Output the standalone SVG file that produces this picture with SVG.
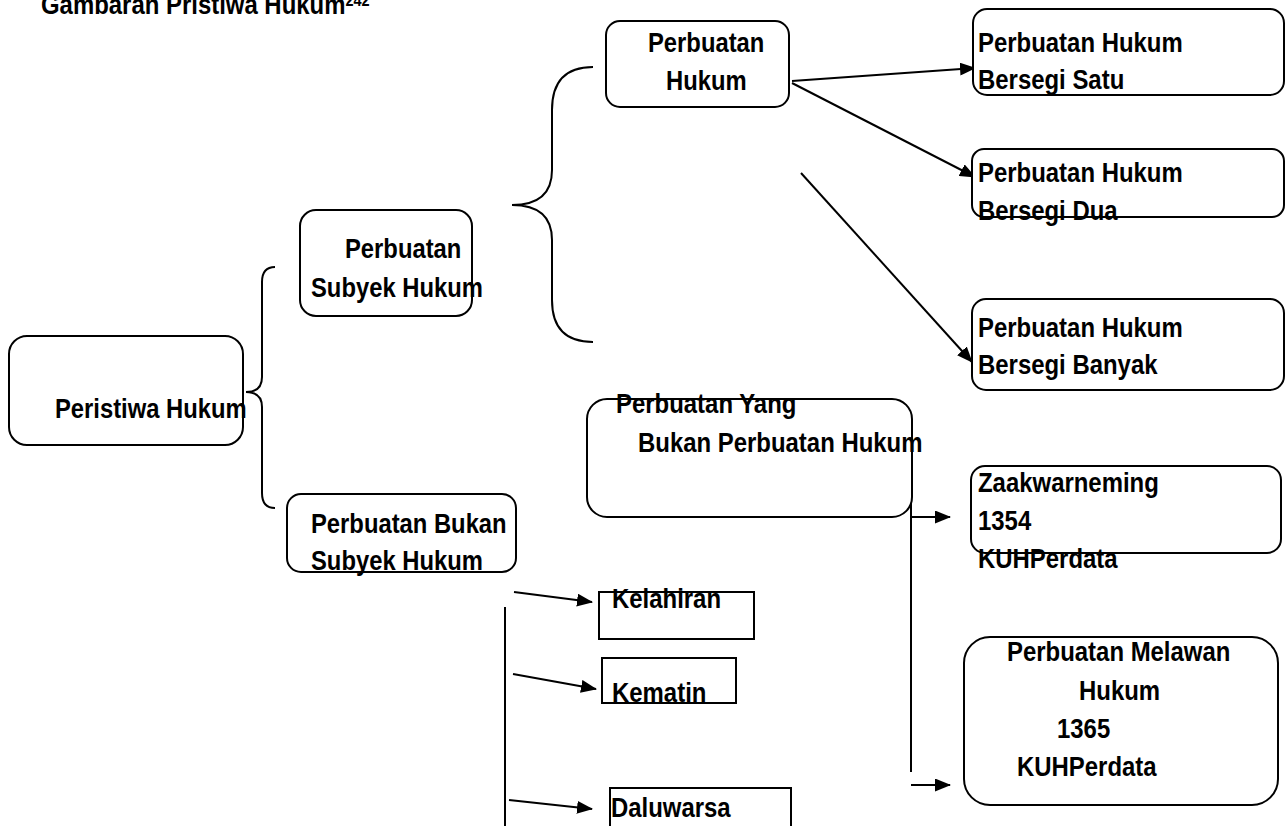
<svg xmlns="http://www.w3.org/2000/svg" width="1285" height="826" viewBox="0 0 1285 826">
<defs>
<style>
.t{font-family:"Liberation Sans","Arial",sans-serif;font-weight:bold;font-size:28px;fill:#000}
.b{fill:#fff;stroke:#000;stroke-width:2}
.l{fill:none;stroke:#000;stroke-width:2}
.a{fill:none;stroke:#000;stroke-width:2;marker-end:url(#ah)}
</style>
<marker id="ah" markerUnits="userSpaceOnUse" markerWidth="16" markerHeight="13" refX="15" refY="6.5" orient="auto">
<path d="M0,0 L16,6.5 L0,13 Z" fill="#000"/>
</marker>
</defs>
<rect width="1285" height="826" fill="#fff"/>
<g id="title">
<text class="t" transform="translate(41,14) scale(.855,1)">Gambaran Pristiwa Hukum<tspan font-size="17" dy="-8">242</tspan></text>
</g>
<g id="connectors">
<path class="l" d="M275,267 Q262,267 262,282 L262,377 Q262,392 246,392 Q262,392 262,407 L262,493 Q262,508 275,508"/>
<path class="l" d="M593,67 Q552,67 552,110 L552,170 Q552,205 512,205 Q552,205 552,240 L552,300 Q552,342 593,342"/>
<line class="a" x1="792" y1="81" x2="975" y2="68"/>
<line class="a" x1="792" y1="83" x2="975" y2="177"/>
<line class="a" x1="801" y1="173" x2="972" y2="362"/>
<line class="l" x1="911" y1="472" x2="911" y2="772"/>
<line class="a" x1="911" y1="517" x2="950" y2="517"/>
<line class="a" x1="911" y1="785" x2="950" y2="785"/>
<line class="l" x1="505" y1="607" x2="505" y2="826"/>
<line class="a" x1="514" y1="592" x2="592" y2="602"/>
<line class="a" x1="513" y1="674" x2="596" y2="689"/>
<line class="a" x1="509" y1="800" x2="592" y2="809"/>
</g>
<g id="peristiwa-hukum">
<rect class="b" x="9" y="336" width="234" height="109" rx="18"/>
<text class="t" transform="translate(55,418) scale(.85,1)">Peristiwa Hukum</text>
</g>
<g id="perbuatan-subyek-hukum">
<rect class="b" x="300" y="210" width="172" height="106" rx="16"/>
<text class="t" transform="translate(345,258) scale(.85,1)">Perbuatan</text>
<text class="t" transform="translate(311,297) scale(.85,1)">Subyek Hukum</text>
</g>
<g id="perbuatan-bukan-subyek-hukum">
<rect class="b" x="287" y="494" width="229" height="78" rx="14"/>
<text class="t" transform="translate(311,533) scale(.85,1)">Perbuatan Bukan</text>
<text class="t" transform="translate(311,570) scale(.85,1)">Subyek Hukum</text>
</g>
<g id="perbuatan-hukum">
<rect class="b" x="606" y="21" width="183" height="86" rx="14"/>
<text class="t" transform="translate(648,52) scale(.85,1)">Perbuatan</text>
<text class="t" transform="translate(666,90) scale(.85,1)">Hukum</text>
</g>
<g id="bersegi-satu">
<rect class="b" x="973" y="9" width="311" height="86" rx="14"/>
<text class="t" transform="translate(978,52) scale(.855,1)">Perbuatan Hukum</text>
<text class="t" transform="translate(978,89) scale(.855,1)">Bersegi Satu</text>
</g>
<g id="bersegi-dua">
<rect class="b" x="972" y="149" width="312" height="68" rx="12"/>
<text class="t" transform="translate(978,182) scale(.855,1)">Perbuatan Hukum</text>
<text class="t" transform="translate(978,220) scale(.855,1)">Bersegi Dua</text>
</g>
<g id="bersegi-banyak">
<rect class="b" x="972" y="299" width="312" height="91" rx="14"/>
<text class="t" transform="translate(978,337) scale(.855,1)">Perbuatan Hukum</text>
<text class="t" transform="translate(978,374) scale(.855,1)">Bersegi Banyak</text>
</g>
<g id="perbuatan-yang-bukan">
<rect class="b" x="587" y="399" width="325" height="118" rx="20"/>
<text class="t" transform="translate(616,413) scale(.855,1)">Perbuatan Yang</text>
<text class="t" transform="translate(638,452) scale(.855,1)">Bukan Perbuatan Hukum</text>
</g>
<g id="zaakwarneming">
<rect class="b" x="971" y="466" width="310" height="87" rx="14"/>
<text class="t" transform="translate(978,492) scale(.855,1)">Zaakwarneming</text>
<text class="t" transform="translate(978,530) scale(.855,1)">1354</text>
<text class="t" transform="translate(978,568) scale(.855,1)">KUHPerdata</text>
</g>
<g id="melawan-hukum">
<rect class="b" x="964" y="637" width="314" height="168" rx="26"/>
<text class="t" transform="translate(1007,661) scale(.855,1)">Perbuatan Melawan</text>
<text class="t" transform="translate(1079,700) scale(.855,1)">Hukum</text>
<text class="t" transform="translate(1057,738) scale(.855,1)">1365</text>
<text class="t" transform="translate(1017,776) scale(.855,1)">KUHPerdata</text>
</g>
<g id="kelahiran">
<rect class="b" x="599" y="592" width="155" height="47"/>
<text class="t" transform="translate(612,608) scale(.855,1)">Kelahiran</text>
</g>
<g id="kematin">
<rect class="b" x="602" y="658" width="134" height="45"/>
<text class="t" transform="translate(612,702) scale(.855,1)">Kematin</text>
</g>
<g id="daluwarsa">
<rect class="b" x="610" y="788" width="181" height="50"/>
<text class="t" transform="translate(611,817) scale(.855,1)">Daluwarsa</text>
</g>
</svg>
